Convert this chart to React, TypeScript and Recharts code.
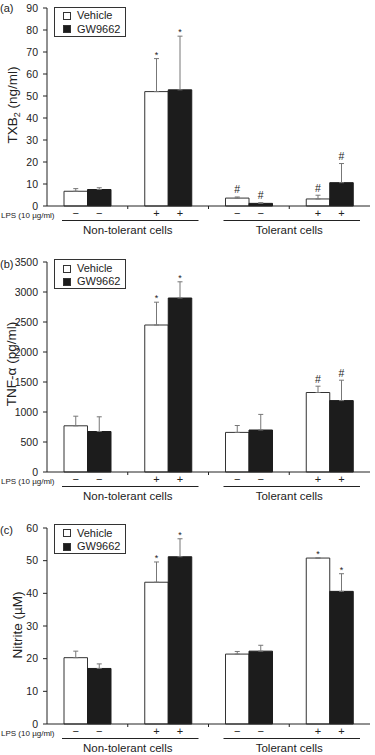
import React from 'react';
import { BarChart, Bar, XAxis, YAxis, ErrorBar, LabelList, Legend } from 'recharts';

// groups: non-tolerant -LPS, non-tolerant +LPS, tolerant -LPS, tolerant +LPS
const groups = ['nt-', 'nt+', 't-', 't+'];
const lpsSigns = ['−', '+', '−', '+'];
const cellTypes = ['Non-tolerant cells', 'Tolerant cells'];
const seriesNames = ['Vehicle', 'GW9662'];

// (a) TXB2
const txbVehicle = [6.7, 52, 3.6, 3.2];
const txbVehicleErr = [1.2, 15, 0.5, 1.7];
const txbVehicleMark = ['', '*', '#', '#'];
const txbGw = [7.5, 52.8, 1.2, 10.6];
const txbGwErr = [0.8, 24.4, 0.3, 8.7];
const txbGwMark = ['', '*', '#', '#'];
const txbTicks = [0, 10, 20, 30, 40, 50, 60, 70, 80, 90];

// (b) TNF-alpha
const tnfVehicle = [770, 2450, 660, 1325];
const tnfVehicleErr = [160, 380, 115, 105];
const tnfVehicleMark = ['', '*', '', '#'];
const tnfGw = [675, 2900, 700, 1190];
const tnfGwErr = [245, 270, 260, 340];
const tnfGwMark = ['', '*', '', '#'];
const tnfTicks = [0, 500, 1000, 1500, 2000, 2500, 3000, 3500];

// (c) Nitrite
const nitVehicle = [20.3, 43.4, 21.4, 50.8];
const nitVehicleErr = [2.0, 6.2, 0.8, 0];
const nitVehicleMark = ['', '*', '', '*'];
const nitGw = [17.0, 51.2, 22.3, 40.6];
const nitGwErr = [1.4, 5.5, 1.8, 5.4];
const nitGwMark = ['', '*', '', '*'];
const nitTicks = [0, 10, 20, 30, 40, 50, 60];

const FONT = '"Liberation Sans", Arial, Helvetica, sans-serif';
const INK = '#222';
const PLOT_W = 323;
const BAND = PLOT_W / groups.length;
const BAR = 23.5;

type Row = {
  group: string;
  vehicle: number;
  vehicleErr: number[];
  vehicleMark: string;
  gw: number;
  gwErr: number[];
  gwMark: string;
};

const makeRows = (v: number[], ve: number[], vm: string[], g: number[], ge: number[], gm: string[]): Row[] =>
  groups.map((group, i) => ({
    group,
    vehicle: v[i],
    vehicleErr: [0, ve[i]],
    vehicleMark: vm[i],
    gw: g[i],
    gwErr: [0, ge[i]],
    gwMark: gm[i],
  }));

const markContent = (rows: Row[], key: 'vehicle' | 'gw') => (props: any) => {
  const vb = props.viewBox ?? props;
  const x = Number(props.x ?? vb.x);
  const y = Number(props.y ?? vb.y);
  const width = Number(props.width ?? vb.width);
  const height = Number(props.height ?? vb.height);
  const row = rows[props.index];
  if (!row) return null;
  const mark = key === 'vehicle' ? row.vehicleMark : row.gwMark;
  if (!mark) return null;
  const val = row[key];
  const err = (key === 'vehicle' ? row.vehicleErr : row.gwErr)[1];
  const perUnit = val ? Math.abs(height) / val : 0;
  const top = y - err * perUnit;
  const star = mark === '*';
  return (
    <text
      x={x + width / 2}
      y={star ? top - 1 : top - 3.5}
      textAnchor="middle"
      fontSize={star ? 9 : 10.5}
      fill={INK}
      fontFamily={FONT}
    >
      {mark}
    </text>
  );
};

const LpsTick = (props: any) => {
  const { x, y, index } = props;
  const half = BAND / 2;
  return (
    <g fontFamily={FONT} fill={INK}>
      {[-BAR / 2, BAR / 2].map((dx) => (
        <text key={dx} x={x + dx} y={y + 11} textAnchor="middle" fontSize={11}>
          {lpsSigns[index]}
        </text>
      ))}
      {index < groups.length - 1 && (
        <line x1={x + half} x2={x + half} y1={y} y2={y + 3} stroke={INK} />
      )}
      {index % 2 === 0 && (
        <>
          <line x1={x - half + 15} x2={x + BAND + half - 10} y1={y + 14.5} y2={y + 14.5} stroke={INK} />
          <text x={x + half} y={y + 28} textAnchor="middle" fontSize={11.5}>
            {cellTypes[index / 2]}
          </text>
        </>
      )}
      {index === 0 && (
        <text x={1} y={y + 11.5} fontSize={8}>
          LPS (10 µg/ml)
        </text>
      )}
    </g>
  );
};

const LegendBox = (props: any) => {
  const items = [...(props.payload ?? [])].sort(
    (a: any, b: any) => seriesNames.indexOf(a.value) - seriesNames.indexOf(b.value),
  );
  return (
    <div
      style={{
        border: '1px solid #333',
        width: 72,
        height: 30,
        boxSizing: 'border-box',
        padding: '1.5px 0 0 8px',
        fontFamily: FONT,
        fontSize: 11,
        lineHeight: '13.5px',
        color: INK,
        background: '#fff',
      }}
    >
      {items.map((entry: any) => (
        <div key={entry.value} style={{ display: 'flex', alignItems: 'center' }}>
          <span
            style={{
              display: 'inline-block',
              width: 6,
              height: 6,
              border: '1px solid #333',
              background: entry.color,
              marginRight: 6,
            }}
          />
          {entry.value}
        </div>
      ))}
    </div>
  );
};

type PanelProps = {
  rows: Row[];
  top: number;
  height: number;
  marginTop: number;
  axisHeight: number;
  ticks: number[];
  legendTop: number;
};

const Panel = ({ rows, top, height, marginTop, axisHeight, ticks, legendTop }: PanelProps) => (
  <div style={{ position: 'absolute', left: 0, top }}>
    <BarChart
      width={375}
      height={height}
      data={rows}
      margin={{ top: marginTop, right: 5, bottom: 0, left: 0 }}
      barGap={0}
    >
      <XAxis
        dataKey="group"
        interval={0}
        tickLine={false}
        tickSize={0}
        tickMargin={0}
        height={axisHeight}
        axisLine={{ stroke: INK }}
        tick={(p: any) => <LpsTick {...p} />}
      />
      <YAxis
        width={47}
        domain={[0, ticks[ticks.length - 1]]}
        ticks={ticks}
        interval={0}
        tickSize={4}
        tickMargin={5}
        axisLine={{ stroke: INK }}
        tickLine={{ stroke: INK }}
        tick={{ fill: INK, fontSize: 10.5, fontFamily: FONT }}
      />
      <Legend
        layout="vertical"
        align="center"
        verticalAlign="middle"
        width={72}
        height={30}
        wrapperStyle={{ left: 54, top: legendTop, width: 72, height: 30 }}
        content={(p: any) => <LegendBox {...p} />}
      />
      <Bar dataKey="vehicle" name={seriesNames[0]} fill="#fff" stroke="#333" strokeWidth={1} barSize={BAR} isAnimationActive={false}>
        <ErrorBar dataKey="vehicleErr" width={2.5} stroke="#777" strokeWidth={1} />
        <LabelList dataKey="vehicleMark" content={markContent(rows, 'vehicle')} />
      </Bar>
      <Bar dataKey="gw" name={seriesNames[1]} fill="#1c1c1c" stroke="#1c1c1c" strokeWidth={1} barSize={BAR} isAnimationActive={false}>
        <ErrorBar dataKey="gwErr" width={2.5} stroke="#777" strokeWidth={1} />
        <LabelList dataKey="gwMark" content={markContent(rows, 'gw')} />
      </Bar>
    </BarChart>
  </div>
);

const txbRows = makeRows(txbVehicle, txbVehicleErr, txbVehicleMark, txbGw, txbGwErr, txbGwMark);
const tnfRows = makeRows(tnfVehicle, tnfVehicleErr, tnfVehicleMark, tnfGw, tnfGwErr, tnfGwMark);
const nitRows = makeRows(nitVehicle, nitVehicleErr, nitVehicleMark, nitGw, nitGwErr, nitGwMark);

const yLabelStyle = (cx: number, cy: number): React.CSSProperties => ({
  position: 'absolute',
  left: cx,
  top: cy,
  transform: 'translate(-50%, -50%) rotate(-90deg)',
  whiteSpace: 'nowrap',
  fontFamily: FONT,
  fontSize: 13.5,
  color: INK,
  lineHeight: 1,
});

const panelLabelStyle = (top: number): React.CSSProperties => ({
  position: 'absolute',
  left: 0,
  top,
  fontFamily: FONT,
  fontSize: 11,
  color: INK,
  lineHeight: 1,
});

export default function App() {
  return (
    <div style={{ position: 'absolute', left: 0, top: 0, width: 375, height: 755, background: '#fff', overflow: 'hidden' }}>
      <Panel rows={txbRows} top={0} height={242} marginTop={8} axisHeight={36} ticks={txbTicks} legendTop={6.7} />
      <Panel rows={tnfRows} top={250} height={258} marginTop={12} axisHeight={36} ticks={tnfTicks} legendTop={9.3} />
      <Panel rows={nitRows} top={516} height={240} marginTop={12} axisHeight={32} ticks={nitTicks} legendTop={8} />

      <div style={panelLabelStyle(2.5)}>(a)</div>
      <div style={panelLabelStyle(258.5)}>(b)</div>
      <div style={panelLabelStyle(525)}>(c)</div>

      <div style={yLabelStyle(14, 105)}>
        TXB<sub style={{ fontSize: 9 }}>2</sub> (ng/ml)
      </div>
      <div style={yLabelStyle(12, 364)}>TNF-α (pg/ml)</div>
      <div style={yLabelStyle(18, 625)}>Nitrite (µM)</div>
    </div>
  );
}
